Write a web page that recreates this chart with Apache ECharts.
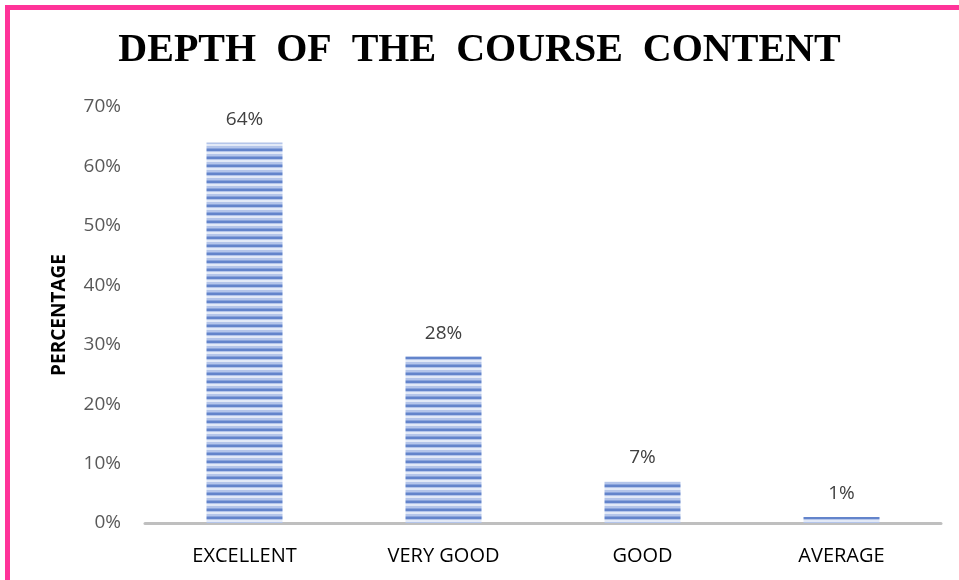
<!DOCTYPE html>
<html>
<head>
    <meta charset="utf-8">
    <title>Depth of the course content</title>
    <script src="https://cdn.jsdelivr.net/npm/echarts@6/dist/echarts.min.js"></script>
    <style>
        html, body { margin: 0; padding: 0; background: #fff; }
        #main { width: 959px; height: 580px; }
    </style>
</head>
<body>
    <div id="main"></div>
    <script type="text/javascript">
        // chart data
        var categories = ['EXCELLENT', 'VERY GOOD', 'GOOD', 'AVERAGE'];
        var percentValues = [64, 28, 7, 1];
        var titleText = 'DEPTH  OF  THE  COURSE  CONTENT';

        // striped fill like the original (horizontal bands)
        function stripes() {
            var c = document.createElement('canvas');
            c.width = 4; c.height = 8;
            var ctx = c.getContext('2d');
            ctx.fillStyle = '#b4c5ea';
            ctx.fillRect(0, 0, 4, 8);
            ctx.fillStyle = '#e2e9f7';
            ctx.fillRect(0, 0, 4, 2);
            ctx.fillStyle = '#8aa4dc';
            ctx.fillRect(0, 4, 4, 1);
            ctx.fillStyle = '#6384cb';
            ctx.fillRect(0, 5, 4, 2);
            return c;
        }

        var myChart = echarts.init(document.getElementById('main'));

        myChart.setOption({
            animation: false,
            title: {
                text: titleText,
                left: 'center',
                top: 26,
                textStyle: {
                    fontFamily: 'Liberation Serif',
                    fontWeight: 'bold',
                    fontSize: 40,
                    color: '#000'
                }
            },
            graphic: [{
                type: 'rect',
                shape: { x: 7.5, y: 7.5, width: 970, height: 600 },
                style: { fill: 'none', stroke: '#ff3399', lineWidth: 5 },
                silent: true
            }],
            grid: { left: 145, right: 18, top: 107, bottom: 57 },
            xAxis: {
                type: 'category',
                data: categories,
                axisLine: { lineStyle: { color: '#bfbfbf', width: 3 } },
                axisTick: { show: false },
                axisLabel: {
                    color: '#000',
                    fontSize: 20,
                    fontFamily: 'Open Sans',
                    margin: 23
                }
            },
            yAxis: {
                type: 'value',
                min: 0,
                max: 70,
                interval: 10,
                name: 'PERCENTAGE',
                nameLocation: 'middle',
                nameGap: 76,
                nameTextStyle: {
                    fontFamily: 'Open Sans',
                    fontWeight: 'bold',
                    fontSize: 19,
                    color: '#000'
                },
                splitLine: { show: false },
                axisLine: { show: false },
                axisTick: { show: false },
                axisLabel: {
                    formatter: '{value}%',
                    color: '#595959',
                    fontSize: 19,
                    fontFamily: 'Open Sans',
                    margin: 24
                }
            },
            series: [{
                type: 'bar',
                data: percentValues,
                barWidth: 76,
                itemStyle: {
                    color: { image: stripes(), repeat: 'repeat' }
                },
                label: {
                    show: true,
                    position: 'top',
                    distance: 14,
                    formatter: '{c}%',
                    color: '#404040',
                    fontSize: 19,
                    fontFamily: 'Open Sans'
                }
            }]
        });
    </script>
</body>
</html>
